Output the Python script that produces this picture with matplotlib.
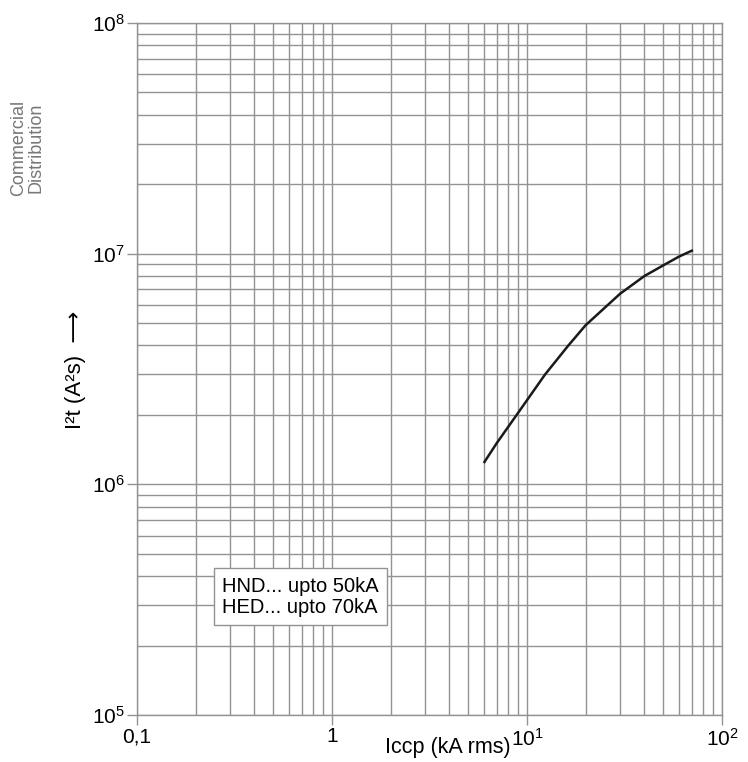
import numpy as np
import matplotlib
matplotlib.use('Agg')
import matplotlib.pyplot as plt
from matplotlib.ticker import FixedLocator

plt.rcParams['font.family'] = ['Liberation Sans', 'DejaVu Sans']
plt.rcParams['mathtext.fontset'] = 'custom'
plt.rcParams['mathtext.rm'] = 'Liberation Sans'
plt.rcParams['mathtext.it'] = 'Liberation Sans'

# let-through energy curve
iccp = [6.05, 7.0, 8.85, 12.4, 16.3, 20, 30, 40, 50, 60, 70]
i2t = [1.25e6, 1.51e6, 2.0e6, 3.0e6, 4.0e6, 4.9e6, 6.7e6, 8.0e6, 8.9e6, 9.7e6, 1.03e7]

x_ticks = [0.1, 1, 10, 100]
x_labels = ['0,1', '1', r'$10^1$', r'$10^2$']
y_ticks = [1e5, 1e6, 1e7, 1e8]
y_labels = [r'$10^5$', r'$10^6$', r'$10^7$', r'$10^8$']

gridc = '#939393'

fig = plt.figure(figsize=(7.48, 7.62), dpi=100)
ax = fig.add_axes([137/748, 47/762, 585/748, 692/762])
ax.set_xscale('log')
ax.set_yscale('log')
ax.set_xlim(0.1, 100)
ax.set_ylim(1e5, 1e8)

# grid: every integer multiple within each decade
xg = [m * 10.0**e for e in range(-1, 2) for m in range(1, 10)] + [100]
yg = [m * 10.0**e for e in range(5, 8) for m in range(1, 10)] + [1e8]
for v in xg:
    ax.axvline(v, color=gridc, lw=1.0, zorder=1)
for v in yg:
    ax.axhline(v, color=gridc, lw=1.0, zorder=1)

ax.plot(iccp, i2t, color='#1a1a1a', lw=1.8, zorder=3)

ax.xaxis.set_major_locator(FixedLocator(x_ticks))
ax.set_xticklabels(x_labels)
ax.yaxis.set_major_locator(FixedLocator(y_ticks))
ax.set_yticklabels(y_labels)
ax.xaxis.set_minor_locator(FixedLocator([]))
ax.yaxis.set_minor_locator(FixedLocator([]))
ax.tick_params(axis='both', which='major', length=7, width=1, color=gridc,
               labelsize=15, direction='out', pad=2)
for s in ax.spines.values():
    s.set_color(gridc)
    s.set_linewidth(1.0)

fig.text(448/748, 1 - 748/762, 'Iccp (kA rms)', fontsize=15.5,
         ha='center', va='center')
fig.text(75/748, 1 - 370/762, 'I\u00b2t (A\u00b2s)  \u27f6', fontsize=16,
         rotation=90, ha='center', va='center')

ax.text(0.145, 0.171, 'HND... upto 50kA\nHED... upto 70kA', transform=ax.transAxes,
        fontsize=14.5, va='center', ha='left', linespacing=1.15, zorder=5,
        bbox=dict(boxstyle='square,pad=0.4', fc='white', ec=gridc, lw=1.0))

fig.text(27/748, 1 - 148/762, 'Commercial\nDistribution', rotation=90,
         ha='center', va='center', fontsize=13, color='#777777', linespacing=1.0)

fig.savefig('out.png', dpi=100)
